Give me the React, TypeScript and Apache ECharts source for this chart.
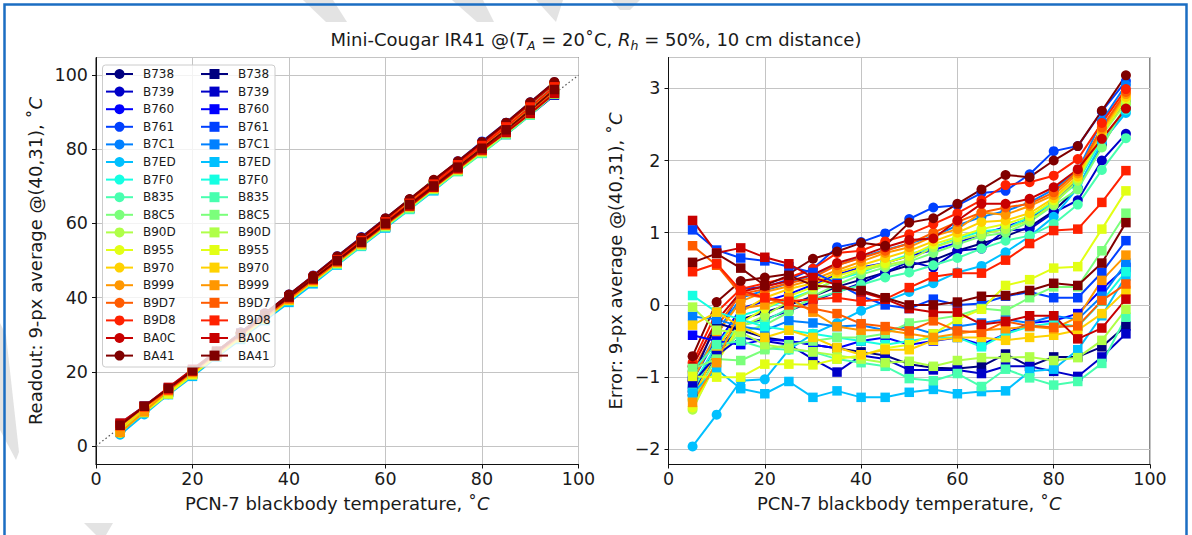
import React, { useEffect, useRef } from "react";
import * as echarts from "echarts";

// ---------------- data ----------------
const TEMPS = [5, 10, 15, 20, 25, 30, 35, 40, 45, 50, 55, 60, 65, 70, 75, 80, 85, 90, 95];
const SENSORS = ["B738", "B739", "B760", "B761", "B7C1", "B7ED", "B7F0", "B835", "B8C5", "B90D", "B955", "B970", "B999", "B9D7", "B9D8", "BA0C", "BA41"];
const IDENTITY_X = [0, 100];

// error (readout - blackbody), circle-marker runs
const ERR_CIRCLE_B738 = [-1.25, -0.65, -0.2, -0.1, 0.0, 0.12, 0.25, 0.35, 0.45, 0.55, 0.62, 0.75, 0.85, 0.95, 1.08, 1.3, 1.62, 2.22, 2.72];
const ERR_CIRCLE_B739 = [-1.2, -0.7, -0.28, -0.2, -0.08, 0.05, 0.18, 0.3, 0.45, 0.6, 0.52, 0.75, 0.78, 1.03, 1.05, 1.28, 1.45, 2.0, 2.37];
const ERR_CIRCLE_B760 = [-1.15, -0.55, -0.05, 0.05, 0.15, 0.28, 0.42, 0.52, 0.58, 0.68, 0.76, 0.86, 0.98, 1.08, 1.2, 1.4, 1.75, 2.38, 2.82];
const ERR_CIRCLE_B761 = [-1.05, -0.45, 0.22, 0.25, 0.35, 0.5, 0.8, 0.87, 0.99, 1.19, 1.35, 1.38, 1.55, 1.58, 1.81, 2.13, 2.2, 2.68, 3.1];
const ERR_CIRCLE_B7C1 = [-1.0, -0.4, 0.1, 0.2, 0.3, 0.42, 0.55, 0.66, 0.76, 0.85, 0.95, 1.1, 1.22, 1.3, 1.42, 1.6, 1.86, 2.55, 3.05];
const ERR_CIRCLE_B7ED = [-1.96, -1.52, -1.05, -1.03, -0.62, -0.4, -0.25, -0.08, 0.05, 0.18, 0.3, 0.45, 0.54, 0.73, 0.95, 1.22, 1.62, 2.25, 2.66];
const ERR_CIRCLE_B7F0 = [-1.12, -0.55, -0.15, -0.05, 0.08, 0.2, 0.35, 0.45, 0.58, 0.7, 0.8, 0.92, 1.02, 1.05, 1.22, 1.42, 1.7, 2.3, 2.7];
const ERR_CIRCLE_B835 = [-1.18, -0.62, -0.28, -0.22, -0.05, 0.08, 0.18, 0.28, 0.38, 0.45, 0.55, 0.65, 0.78, 0.89, 0.96, 1.12, 1.39, 1.87, 2.31];
const ERR_CIRCLE_B8C5 = [-1.32, -0.72, -0.38, -0.28, -0.1, 0.12, 0.28, 0.42, 0.52, 0.6, 0.72, 0.84, 0.95, 1.0, 1.15, 1.38, 1.6, 2.18, 2.78];
const ERR_CIRCLE_B90D = [-1.45, -0.78, -0.3, -0.15, 0.05, 0.2, 0.35, 0.48, 0.55, 0.62, 0.8, 0.9, 0.98, 1.05, 1.17, 1.4, 1.72, 2.35, 2.8];
const ERR_CIRCLE_B955 = [-1.42, -0.8, -0.25, -0.05, 0.12, 0.25, 0.4, 0.5, 0.58, 0.68, 0.84, 0.94, 1.05, 1.12, 1.23, 1.45, 1.76, 2.38, 2.85];
const ERR_CIRCLE_B970 = [-1.3, -0.62, -0.1, 0.1, 0.22, 0.3, 0.45, 0.55, 0.65, 0.75, 0.88, 1.0, 1.15, 1.17, 1.27, 1.48, 1.78, 2.4, 2.88];
const ERR_CIRCLE_B999 = [-1.05, -0.4, 0.05, 0.18, 0.26, 0.35, 0.48, 0.6, 0.72, 0.8, 0.95, 1.05, 1.28, 1.25, 1.37, 1.52, 1.82, 2.43, 2.92];
const ERR_CIRCLE_B9D7 = [-0.92, -0.3, 0.15, 0.22, 0.3, 0.38, 0.55, 0.65, 0.75, 0.85, 1.0, 1.15, 1.28, 1.35, 1.4, 1.56, 1.85, 2.46, 2.95];
const ERR_CIRCLE_B9D8 = [-0.8, -0.1, 0.22, 0.3, 0.38, 0.5, 0.72, 0.75, 0.88, 0.98, 1.12, 1.27, 1.45, 1.66, 1.7, 1.79, 2.02, 2.52, 2.99];
const ERR_CIRCLE_BA0C = [-0.85, -0.22, 0.18, 0.26, 0.33, 0.42, 0.58, 0.68, 0.8, 0.9, 0.92, 1.17, 1.4, 1.4, 1.47, 1.63, 1.88, 2.3, 2.72];
const ERR_CIRCLE_BA41 = [-0.71, 0.04, 0.33, 0.38, 0.43, 0.64, 0.74, 0.86, 0.82, 1.14, 1.2, 1.4, 1.6, 1.8, 1.77, 2.0, 2.2, 2.69, 3.18];

// error (readout - blackbody), square-marker runs
const ERR_SQUARE_B738 = [-1.0, -0.25, -0.35, -0.45, -0.5, -0.55, -0.6, -0.65, -0.7, -0.82, -0.87, -0.88, -0.85, -0.68, -0.85, -0.72, -0.72, -0.58, -0.29];
const ERR_SQUARE_B739 = [-1.08, -0.7, -0.45, -0.5, -0.55, -0.75, -0.93, -0.7, -0.75, -0.9, -0.9, -0.9, -0.95, -0.85, -0.85, -0.92, -0.99, -0.72, -0.4];
const ERR_SQUARE_B760 = [-0.42, -0.5, -0.55, -0.48, -0.5, -0.55, -0.6, -0.5, -0.45, -0.55, -0.5, -0.45, -0.55, -0.4, -0.25, -0.22, -0.12, 0.22, 0.52];
const ERR_SQUARE_B761 = [1.04, 0.76, 0.65, 0.61, 0.53, 0.45, 0.3, 0.12, 0.0, -0.05, 0.08, 0.0, 0.02, 0.12, 0.18, 0.1, 0.1, 0.45, 0.89];
const ERR_SQUARE_B7C1 = [-0.16, -0.2, -0.3, -0.35, -0.22, -0.25, -0.3, -0.28, -0.35, -0.3, -0.4, -0.3, -0.25, -0.2, -0.25, -0.15, -0.2, 0.12, 0.58];
const ERR_SQUARE_B7ED = [-1.22, -0.89, -1.16, -1.23, -1.06, -1.28, -1.19, -1.28, -1.28, -1.21, -1.17, -1.23, -1.2, -1.19, -0.92, -0.89, -0.62, -0.15, 0.4];
const ERR_SQUARE_B7F0 = [0.13, -0.1, -0.2, -0.3, -0.35, -0.4, -0.45, -0.5, -0.55, -0.5, -0.45, -0.45, -0.58, -0.4, -0.3, -0.25, -0.3, 0.05, 0.46];
const ERR_SQUARE_B835 = [-0.9, -0.55, -0.5, -0.6, -0.62, -0.65, -0.75, -0.8, -0.85, -1.02, -1.05, -0.95, -1.13, -0.89, -1.01, -1.11, -1.06, -0.81, -0.17];
const ERR_SQUARE_B8C5 = [-0.88, -0.75, -0.77, -0.62, -0.55, -0.5, -0.45, -0.45, -0.4, -0.25, -0.2, -0.15, -0.05, -0.08, 0.1, 0.25, 0.25, 0.75, 1.27];
const ERR_SQUARE_B90D = [-0.03, -0.35, -0.38, -0.55, -0.6, -0.65, -0.7, -0.75, -0.8, -0.78, -0.85, -0.77, -0.73, -0.73, -0.72, -0.77, -0.73, -0.49, -0.06];
const ERR_SQUARE_B955 = [-0.99, -1.0, -1.0, -0.82, -0.82, -0.83, -0.75, -0.7, -0.6, -0.55, -0.4, -0.2, -0.06, 0.27, 0.35, 0.51, 0.53, 1.05, 1.58];
const ERR_SQUARE_B970 = [-0.28, -0.1, -0.3, -0.45, -0.35, -0.45, -0.59, -0.69, -0.62, -0.62, -0.49, -0.45, -0.45, -0.49, -0.45, -0.42, -0.35, -0.12, 0.2];
const ERR_SQUARE_B999 = [-1.35, -0.8, -0.05, 0.0, 0.1, -0.1, -0.3, -0.35, -0.35, -0.4, -0.45, -0.4, -0.35, -0.33, -0.3, -0.33, -0.17, 0.34, 0.69];
const ERR_SQUARE_B9D7 = [0.82, 0.55, 0.15, 0.1, 0.0, -0.05, -0.12, -0.26, -0.3, -0.36, -0.22, -0.36, -0.38, -0.23, -0.29, -0.31, -0.29, 0.06, 0.29];
const ERR_SQUARE_B9D8 = [0.46, 0.57, 0.2, 0.1, 0.05, 0.08, 0.1, 0.05, 0.08, 0.24, 0.39, 0.44, 0.44, 0.62, 0.85, 1.03, 1.05, 1.42, 1.86];
const ERR_SQUARE_BA0C = [1.17, 0.72, 0.79, 0.66, 0.57, 0.38, 0.28, 0.18, 0.08, -0.05, -0.1, -0.1, -0.27, -0.23, -0.15, -0.15, -0.47, -0.32, 0.08];
const ERR_SQUARE_BA41 = [0.59, 0.71, 0.51, 0.27, 0.41, 0.27, 0.24, 0.2, 0.1, 0.0, 0.0, 0.04, 0.12, 0.13, 0.2, 0.3, 0.27, 0.58, 1.14];

const ERR_CIRCLES = [
  ERR_CIRCLE_B738, ERR_CIRCLE_B739, ERR_CIRCLE_B760, ERR_CIRCLE_B761, ERR_CIRCLE_B7C1, ERR_CIRCLE_B7ED,
  ERR_CIRCLE_B7F0, ERR_CIRCLE_B835, ERR_CIRCLE_B8C5, ERR_CIRCLE_B90D, ERR_CIRCLE_B955, ERR_CIRCLE_B970,
  ERR_CIRCLE_B999, ERR_CIRCLE_B9D7, ERR_CIRCLE_B9D8, ERR_CIRCLE_BA0C, ERR_CIRCLE_BA41,
];
const ERR_SQUARES = [
  ERR_SQUARE_B738, ERR_SQUARE_B739, ERR_SQUARE_B760, ERR_SQUARE_B761, ERR_SQUARE_B7C1, ERR_SQUARE_B7ED,
  ERR_SQUARE_B7F0, ERR_SQUARE_B835, ERR_SQUARE_B8C5, ERR_SQUARE_B90D, ERR_SQUARE_B955, ERR_SQUARE_B970,
  ERR_SQUARE_B999, ERR_SQUARE_B9D7, ERR_SQUARE_B9D8, ERR_SQUARE_BA0C, ERR_SQUARE_BA41,
];

// jet colormap sampled at 17 points
const JET = [
  "#000080", "#0000c8", "#0000ff", "#0040ff", "#0080ff", "#00c0ff", "#15ffe2", "#48ffaf", "#7bff7b",
  "#afff48", "#e2ff15", "#ffd200", "#ff9700", "#ff5c00", "#ff2100", "#c80000", "#800000",
];

const FONT = "DejaVu Sans";
const TXT = "#1a1a1a";
const ZW = "\u200b";
const FS = 18;

const minusFmt = (v: number) => (v < 0 ? "\u2212" + Math.abs(v) : String(v));

function buildOption() {
  const series: any[] = [];
  // identity reference
  series.push({
    type: "line",
    name: "identity",
    xAxisIndex: 0,
    yAxisIndex: 0,
    data: IDENTITY_X.map((v) => [v, v]),
    symbol: "none",
    silent: true,
    z: 1,
    lineStyle: { color: "#555", width: 1.2, type: [1.5, 2.5] },
  });
  const add = (arrs: number[][], marker: string, suffix: string) => {
    arrs.forEach((err, i) => {
      const name = SENSORS[i] + suffix;
      const common = {
        type: "line",
        name,
        symbol: marker,
        symbolSize: marker === "circle" ? 10 : 9.5,
        lineStyle: { color: JET[i], width: 2 },
        itemStyle: { color: JET[i] },
        emphasis: { disabled: true },
        z: 2,
      };
      series.push({ ...common, xAxisIndex: 0, yAxisIndex: 0, data: TEMPS.map((t, k) => [t, +(t + err[k]).toFixed(2)]) });
      series.push({ ...common, xAxisIndex: 1, yAxisIndex: 1, data: TEMPS.map((t, k) => [t, err[k]]) });
    });
  };
  add(ERR_CIRCLES, "circle", "");
  add(ERR_SQUARES, "rect", ZW);

  const axisCommon = {
    axisLine: { show: true, onZero: false, lineStyle: { color: "#111", width: 1 } },
    axisTick: { show: true, length: 4, lineStyle: { color: "#111", width: 1 } },
    splitLine: { show: true, lineStyle: { color: "#c4c4c4", width: 1 } },
  };
  const labelStyle = { fontFamily: FONT, fontSize: 17.5, color: TXT };
  const nameStyle = {
    fontFamily: FONT,
    fontSize: FS,
    color: TXT,
    rich: { i: { fontFamily: FONT, fontSize: FS, color: TXT, fontStyle: "italic" } },
  };

  const legendCommon = {
    orient: "vertical",
    top: 68,
    itemWidth: 27,
    itemHeight: 12.5,
    itemGap: 5.6,
    padding: 0,
    selectedMode: false,
    textStyle: { fontFamily: FONT, fontSize: 12, color: TXT, padding: [0, 0, 0, 5] },
    formatter: (n: string) => n.replace(ZW, ""),
    z: 5,
  };

  return {
    animation: false,
    backgroundColor: "#ffffff",
    title: {
      text: "Mini-Cougar IR41 @({i|T}{s|A}{n| = 20˚C, }{i|R}{s|h}{n| = 50%, 10 cm distance)}",
      left: "center",
      top: 23,
      textStyle: {
        fontFamily: FONT,
        fontSize: FS,
        fontWeight: "normal",
        color: TXT,
        lineHeight: 23,
        rich: {
          n: { fontFamily: FONT, fontSize: FS, color: TXT, lineHeight: 23 },
          i: { fontFamily: FONT, fontSize: FS, color: TXT, fontStyle: "italic", lineHeight: 23 },
          s: { fontFamily: FONT, fontSize: 12.5, color: TXT, fontStyle: "italic", lineHeight: 12.5, verticalAlign: "top", padding: [10.5, 0, 0, 0] },
        },
      },
    },
    legend: [
      { ...legendCommon, left: 105, data: SENSORS.map((s) => s) },
      { ...legendCommon, left: 200, data: SENSORS.map((s) => s + ZW) },
    ],
    grid: [
      { left: 96, top: 57.5, width: 482.5, height: 407, show: true, borderColor: "#111", borderWidth: 1, backgroundColor: "transparent" },
      { left: 668.5, top: 57.5, width: 481.5, height: 407, show: true, borderColor: "#111", borderWidth: 1, backgroundColor: "transparent" },
    ],
    xAxis: [0, 1].map((g) => ({
      type: "value",
      gridIndex: g,
      min: 0,
      max: 100,
      interval: 20,
      ...axisCommon,
      axisLabel: { ...labelStyle, margin: 5 },
      name: "PCN-7 blackbody temperature, ˚{i|C}",
      nameLocation: "middle",
      nameGap: 30,
      nameTextStyle: nameStyle,
    })),
    yAxis: [
      {
        type: "value",
        gridIndex: 0,
        min: -5,
        max: 104.77,
        minInterval: 20,
        maxInterval: 20,
        ...axisCommon,
        axisLabel: { ...labelStyle, margin: 8, showMinLabel: false, showMaxLabel: false, formatter: (v: number) => (Math.abs(v % 20) < 1e-6 ? minusFmt(v) : "") },
        name: "Readout: 9-px average @(40,31), ˚{i|C}",
        nameLocation: "middle",
        nameGap: 52,
        nameTextStyle: nameStyle,
      },
      {
        type: "value",
        gridIndex: 1,
        min: -2.21,
        max: 3.427,
        minInterval: 1,
        maxInterval: 1,
        ...axisCommon,
        axisLabel: { ...labelStyle, margin: 8, showMinLabel: false, showMaxLabel: false, formatter: (v: number) => (Math.abs(v - Math.round(v)) < 1e-6 ? minusFmt(v) : "") },
        name: "Error: 9-px average @(40,31), ˚{i|C}",
        nameLocation: "middle",
        nameGap: 44,
        nameTextStyle: nameStyle,
      },
    ],
    graphic: [
      // faint watermark strokes behind the figure
      { type: "polygon", z: 0, shape: { points: [[303, 0], [333, 0], [347, 22], [326, 22]] }, style: { fill: "#e3e3e3" } },
      { type: "polygon", z: 0, shape: { points: [[452, 0], [483, 0], [494, 22], [477, 22]] }, style: { fill: "#e3e3e3" } },
      { type: "polygon", z: 0, shape: { points: [[536, 0], [563, 0], [556, 22]] }, style: { fill: "#e3e3e3" } },
      { type: "polygon", z: 0, shape: { points: [[611, 0], [640, 0], [630, 10], [620, 10]] }, style: { fill: "#e3e3e3" } },
      { type: "polygon", z: 0, shape: { points: [[0, 323], [6, 335], [19, 452], [16, 460], [0, 430]] }, style: { fill: "#e3e3e3" } },
      { type: "polygon", z: 0, shape: { points: [[84, 523], [113, 523], [106, 535], [96, 535]] }, style: { fill: "#e3e3e3" } },
      // blue frame
      { type: "polyline", z: 1, shape: { points: [[4.5, 535], [4.5, 4.5], [1186.5, 4.5], [1186.5, 535]] }, style: { stroke: "#1b6ec2", lineWidth: 2.5, fill: null } },
      // legend box
      { type: "rect", z: 3, shape: { x: 102.5, y: 65, width: 172.5, height: 302, r: 3 }, style: { fill: "rgba(255,255,255,0.8)", stroke: "#cccccc", lineWidth: 1 } },
    ],
    series,
  };
}

export default function App() {
  const ref = useRef<HTMLDivElement>(null);
  useEffect(() => {
    if (!ref.current) return;
    const chart = echarts.init(ref.current, null, { renderer: "svg" });
    chart.setOption(buildOption() as any);
    return () => chart.dispose();
  }, []);
  return (
    <div
      ref={ref}
      style={{ position: "fixed", left: 0, top: 0, width: 1192, height: 535, background: "#fff" }}
    />
  );
}
